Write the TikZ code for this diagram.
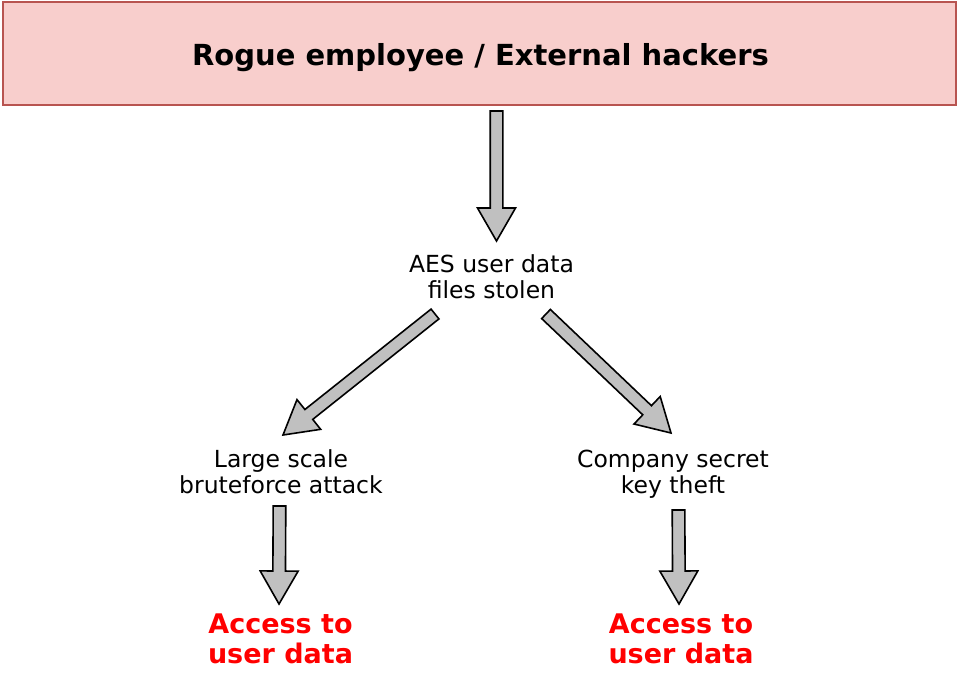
\documentclass[tikz,border=0pt]{standalone}
\usepackage{fontspec}
\setmainfont{DejaVu Sans}
\usetikzlibrary{calc}

\definecolor{boxfill}{HTML}{F8CECC}
\definecolor{boxline}{HTML}{B85450}
\definecolor{arrowfill}{HTML}{C0C0C0}
\definecolor{alertred}{HTML}{FF0000}

\tikzset{
  actorbox/.style={draw=boxline, fill=boxfill, line width=1.2pt},
  titletext/.style={font=\fontsize{29}{32}\selectfont\bfseries, anchor=base, inner sep=0pt},
  stepnode/.style={font=\fontsize{23.5}{26}\selectfont, align=center, inner sep=0pt},
  outcome/.style={font=\fontsize{27}{30}\selectfont\bfseries, text=alertred, align=center, inner sep=0pt},
  fatarrow/.style={draw=black, fill=arrowfill, line width=1.6pt, line join=miter},
}

% Outlined block arrow from #1 (tail) to #2 (tip)
\newcommand\blockarrow[2]{%
  \coordinate (#1#2s) at ($(#2)!33pt!(#1)$);
  \draw[fatarrow]
    ($(#1)!6.3pt!90:(#2)$) -- ($(#1#2s)!6.3pt!90:(#2)$) --
    ($(#1#2s)!19pt!90:(#2)$) -- (#2) --
    ($(#1#2s)!19pt!-90:(#2)$) -- ($(#1#2s)!6.3pt!-90:(#2)$) --
    ($(#1)!6.3pt!-90:(#2)$) -- cycle;}

\begin{document}
\begin{tikzpicture}[x=1pt, y=-1pt]
  \useasboundingbox (0,0) rectangle (957,672);

  % attacker box
  \draw[actorbox] (3,2) rectangle (956,105);
  \node[titletext] (actor) at (480.5,65) {Rogue employee / External hackers};

  % steps
  \node[stepnode] (stolen) at (491.5,276.5) {AES user data\\files stolen};
  \node[stepnode] (brute) at (281,471.5) {Large scale\\bruteforce attack};
  \node[stepnode] (keytheft) at (673,474) {Company secret\\key theft};

  % outcomes
  \node[outcome] (accessL) at (280.5,638.5) {Access to\\user data};
  \node[outcome] (accessR) at (681,638.5) {Access to\\user data};

  % arrow ends
  \coordinate (a0) at (496.5,111);
  \coordinate (a1) at (496.5,241);
  \coordinate (b0) at (435,314);
  \coordinate (b1) at (283,435);
  \coordinate (c0) at (546,314);
  \coordinate (c1) at (671,433);
  \coordinate (d0) at (279.5,506);
  \coordinate (d1) at (279,604);
  \coordinate (e0) at (678.5,510);
  \coordinate (e1) at (679,604);

  \blockarrow{a0}{a1}
  \blockarrow{b0}{b1}
  \blockarrow{c0}{c1}
  \blockarrow{d0}{d1}
  \blockarrow{e0}{e1}
\end{tikzpicture}
\end{document}
